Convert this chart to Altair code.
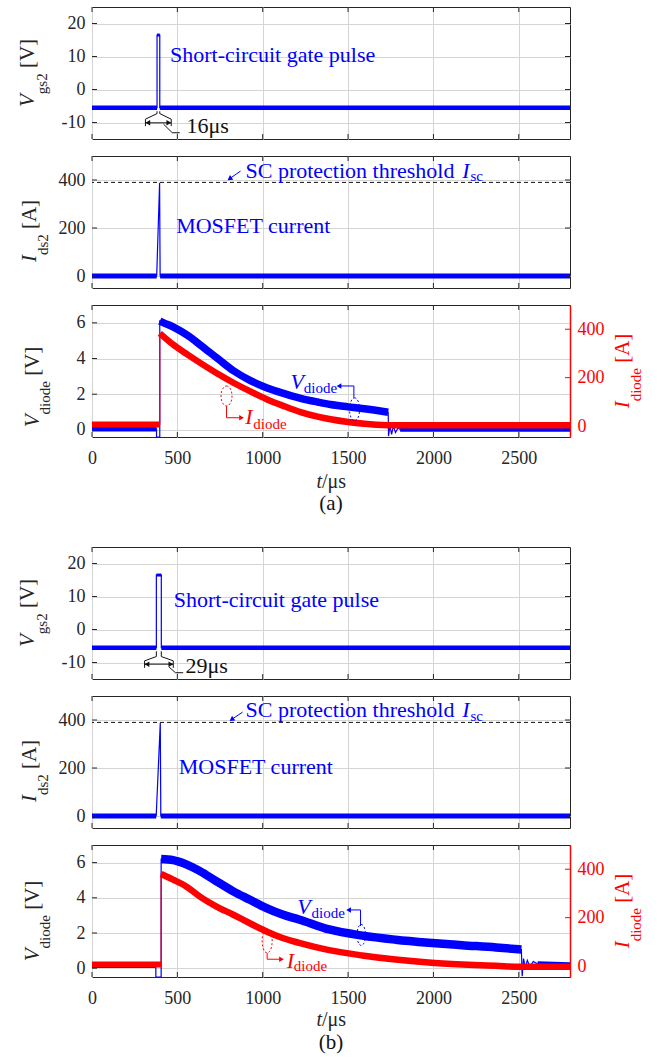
import altair as alt
import pandas as pd

# ------------------------------------------------------------------ data
T_MAX = 2800                                   # end of time axis, us
X_TICKS = [0, 500, 1000, 1500, 2000, 2500]

VGS_DOMAIN, VGS_TICKS = [-15, 25], [-10, 0, 10, 20]
IDS_DOMAIN, IDS_TICKS = [-50, 500], [0, 200, 400]
VD_DOMAIN_A, VD_DOMAIN_B, VD_TICKS = [-0.4, 7], [-0.5, 7], [0, 2, 4, 6]
ID_DOMAIN, ID_TICKS = [-45, 500], [0, 200, 400]

SC_THRESHOLD = 390  # A

# Each trace is a list of segments (kind, t [us], value).
# "base", "cap" and "band" are the noisy steady parts, "edge" the fast transitions.
vgs_a = [
    ("base", [0, 381], [-5.5, -5.5]),
    ("edge", [381, 381], [-5.5, 16.5]),
    ("cap", [381, 397], [16.5, 16.5]),
    ("edge", [397, 397], [16.5, -5.5]),
    ("base", [397, 2800], [-5.5, -5.5]),
]
vgs_b = [
    ("base", [0, 377], [-5.5, -5.5]),
    ("edge", [377, 377], [-5.5, 16.5]),
    ("cap", [377, 406], [16.5, 16.5]),
    ("edge", [406, 406], [16.5, -5.5]),
    ("base", [406, 2800], [-5.5, -5.5]),
]
ids_a = [
    ("base", [0, 379], [0, 0]),
    ("edge", [379, 396, 399], [0, 388, 0]),
    ("base", [399, 2800], [0, 0]),
]
ids_b = [
    ("base", [0, 376], [0, 0]),
    ("edge", [376, 400, 403], [0, 388, 0]),
    ("base", [403, 2800], [0, 0]),
]
vdiode_a = [
    ("base", [0, 378], [0.05, 0.05]),
    ("edge", [378, 378, 397, 397], [0.05, -0.4, -0.4, 6.1]),
    ("band", [397, 420, 480, 560, 640, 736, 831, 931, 1026, 1127, 1222, 1322, 1397, 1500, 1595, 1680, 1735],
             [6.1, 6.0, 5.75, 5.3, 4.72, 4.0, 3.3, 2.75, 2.35, 2.03, 1.77, 1.56, 1.42, 1.29, 1.18, 1.07, 0.99]),
    ("edge", [1735, 1737, 1745, 1755, 1765, 1778, 1792, 1805],
             [0.99, -0.35, 0.25, -0.25, 0.2, -0.15, 0.1, 0.03]),
    ("base", [1805, 2800], [0.03, 0.03]),
]
idiode_a = [
    ("base", [0, 397], [7, 7]),
    ("edge", [397, 397], [7, 383]),
    ("band", [397, 480, 560, 636, 736, 831, 931, 1026, 1127, 1222, 1322, 1397, 1500, 1595, 1735, 1800, 2800],
             [383, 334, 295, 260, 216, 178, 142, 110, 82, 58, 39, 28, 17, 10, 4, 3, 3]),
]
vdiode_b = [
    ("base", [0, 374], [0.15, 0.15]),
    ("edge", [374, 374, 405, 405], [0.15, -0.5, -0.5, 6.2]),
    ("band", [405, 475, 552, 630, 727, 825, 922, 1019, 1116, 1213, 1389, 1583, 1778, 1972, 2167, 2367, 2515],
             [6.2, 6.14, 5.9, 5.53, 4.95, 4.38, 3.9, 3.43, 3.05, 2.77, 2.2, 1.85, 1.62, 1.45, 1.31, 1.18, 1.06]),
    ("edge", [2515, 2520, 2528, 2538, 2550, 2565, 2585, 2610],
             [1.06, -0.45, 0.55, 0.0, 0.45, 0.1, 0.38, 0.25]),
    ("base", [2610, 2800], [0.25, 0.2]),
]
idiode_b = [
    ("base", [0, 405], [7, 7]),
    ("edge", [405, 405], [7, 380]),
    ("band", [405, 475, 552, 630, 727, 825, 922, 1019, 1116, 1213, 1389, 1583, 1778, 1972, 2167, 2367, 2507, 2800],
             [380, 357, 329, 288, 247, 213, 178, 144, 116, 96, 66, 44, 27, 15, 7, 1, -3, -3]),
]

# pulse-width marker under the gate pulse, (t, V) vertices
gate_marker_a = {
    "left": ([381, 381, 313, 313], [-6.6, -7.3, -9.0, -11.1]),
    "right": ([397, 397, 464, 464], [-6.6, -7.3, -9.0, -11.1]),
    "span": ([313, 464], [-10.1, -10.1]),
    "leader": ([419, 470, 514], [-10.5, -13.1, -13.1]),
}
gate_marker_b = {
    "left": ([377, 377, 308, 308], [-6.6, -8.2, -9.5, -11.6]),
    "right": ([406, 406, 476, 476], [-6.6, -8.2, -9.5, -11.6]),
    "span": ([308, 476], [-10.5, -10.5]),
    "leader": ([450, 489, 534], [-11.3, -13.1, -13.1]),
}

# annotation anchors (t, value) in each panel's own units
gate_notes_a = {"pulse": (457, 8.3), "width": (554, -13.2), "width_text": "16μs"}
gate_notes_b = {"pulse": (479, 6.8), "width": (548, -13.1), "width_text": "29μs"}
current_notes_a = {"mosfet": (493, 178), "sc": (899, 410), "sc_I": (2169, 410), "sc_sub": (2217, 394),
                   "arrow": ([870, 811], [437, 408]), "head": (806, 405)}
current_notes_b = {"mosfet": (508, 174), "sc": (899, 412.5), "sc_I": (2169, 412.5), "sc_sub": (2217, 396),
                   "arrow": ([882, 822], [433, 404]), "head": (818, 402)}
diode_notes_a = {
    "v_sym": (1163, 2.27), "v_sub": (1241, 2.08),
    "v_arrow": ([1534, 1534, 1455], [1.80, 2.46, 2.46]), "v_head": (1447, 2.46),
    "v_ring": (1538, 1.15, 10, 23),
    "i_ring": (788, 1.90, 11, 20),
    "i_arrow": ([788, 788, 870], [1.34, 0.68, 0.68]), "i_head": (876, 0.68),
    "i_sym": (897, 0.31), "i_sub": (945, 0.03),
}
diode_notes_b = {
    "v_sym": (1202, 3.08), "v_sub": (1286, 2.85),
    "v_arrow": ([1573, 1573, 1510], [2.40, 3.31, 3.31]), "v_head": (1503, 3.31),
    "v_ring": (1577, 1.89, 8.5, 21),
    "i_ring": (1026, 1.55, 10, 24),
    "i_arrow": ([1026, 1026, 1100], [0.86, 0.51, 0.51]), "i_head": (1110, 0.51),
    "i_sym": (1141, 0.0), "i_sub": (1182, -0.16),
}

# ------------------------------------------------------------------ style
W, H = 478, 132
TICK = 5
FONT = "Liberation Serif"
BLUE, RED, INK, GRID, BLACK = "#0000ff", "#ff0000", "#262626", "#d4d4d4", "#111111"

ROMAN = {"g": .5, "s": .389, "2": .5, "d": .5, "i": .278, "o": .5, "e": .444,
         "[": .333, "]": .333, "V": .722, "A": .722}
ITALIC = {"V": .611, "I": .333}
SHARED = "shared"   # leave the axis to whichever layer defines it
PLAIN = "'' + datum.value"   # plain numbers, no thousands separator


def xs(axis=SHARED):
    kw = {} if axis is SHARED else {"axis": axis}
    return alt.X("t:Q", scale=alt.Scale(domain=[0, T_MAX], nice=False, zero=False), **kw)


def ys(domain, axis=SHARED):
    kw = {} if axis is SHARED else {"axis": axis}
    return alt.Y("v:Q", scale=alt.Scale(domain=domain, nice=False, zero=False), **kw)


def x_axis(labels):
    return alt.Axis(values=X_TICKS, grid=True, gridColor=GRID, ticks=False, domain=False,
                    labels=labels, labelFont=FONT, labelFontSize=18, labelColor=INK,
                    labelPadding=12, labelFlush=False, title=None, labelExpr=PLAIN)


def y_axis(values, orient="left", color=INK, grid=True):
    kw = dict(values=values, orient=orient, grid=grid, ticks=False, labelFont=FONT,
              labelFontSize=18, labelColor=color, labelPadding=7, labelFlush=False,
              title=None, labelExpr=PLAIN)
    if grid:
        kw["gridColor"] = GRID
    if color == INK:
        kw["domain"] = False
    else:
        kw.update(domain=True, domainColor=color, domainWidth=1.5)
    return alt.Axis(**kw)


def trace(segments, domain, color, widths, axis_x=SHARED, axis_y=SHARED):
    rows = []
    for si, (kind, ts, vs) in enumerate(segments):
        for t, v in zip(ts, vs):
            rows.append({"t": t, "v": v, "seg": si, "kind": kind, "k": len(rows)})
    base = alt.Chart(pd.DataFrame(rows))
    out = [base.mark_line(color=color, strokeWidth=1.2).encode(
        x=xs(axis_x), y=ys(domain, axis_y), order="k:Q")]
    for kind, w in widths.items():
        out.append(base.transform_filter(alt.datum.kind == kind)
                   .mark_line(color=color, strokeWidth=w, strokeJoin="round", interpolate="monotone")
                   .encode(x=xs(), y=ys(domain), detail="seg:N", order="k:Q"))
    return out


def x_tick_rules():
    xt = alt.Chart(pd.DataFrame({"t": X_TICKS}))
    return [xt.mark_rule(color=INK, strokeWidth=1).encode(x=xs(), y=alt.value(y0), y2=alt.value(y1))
            for y0, y1 in ((0, TICK), (H - TICK, H))]


def y_tick_rules(domain, values, sides, color=INK):
    yt = alt.Chart(pd.DataFrame({"v": values}))
    out = []
    for side in sides:
        x0, x1 = (0, TICK) if side == "left" else (W - TICK, W)
        out.append(yt.mark_rule(color=color, strokeWidth=1).encode(
            y=ys(domain), x=alt.value(x0), x2=alt.value(x1)))
    return out


def text_at(s, t, v, domain, size=22, color=BLUE, italic=False, yaxis=SHARED):
    df = pd.DataFrame({"t": [t], "v": [v], "s": [s]})
    return alt.Chart(df).mark_text(
        font=FONT, fontSize=size, fontStyle="italic" if italic else "normal", color=color,
        align="left", baseline="alphabetic").encode(x=xs(), y=ys(domain, yaxis), text="s:N")


def polyline(ts, vs, domain, color, width=1.0, yaxis=SHARED):
    df = pd.DataFrame({"t": ts, "v": vs, "k": list(range(len(ts)))})
    return alt.Chart(df).mark_line(color=color, strokeWidth=width).encode(
        x=xs(), y=ys(domain, yaxis), order="k:Q")


def head(t, v, domain, color, shape, angle=None, size=30, yaxis=SHARED):
    kw = {} if angle is None else {"angle": angle}
    return alt.Chart(pd.DataFrame({"t": [t], "v": [v]})).mark_point(
        shape=shape, filled=True, size=size, color=color, opacity=1, **kw
    ).encode(x=xs(), y=ys(domain, yaxis))


def ring(t, v, w, h, domain, color, yaxis=SHARED):
    rx = w / h
    path = f"M0,-1A{rx:.3f},1,0,1,1,0,1A{rx:.3f},1,0,1,1,0,-1Z"
    return alt.Chart(pd.DataFrame({"t": [t], "v": [v]})).mark_point(
        shape=path, size=h * h, filled=False, color=color, strokeWidth=1,
        strokeDash=[2, 2], opacity=1).encode(x=xs(), y=ys(domain, yaxis))


def label_px(s, x, y, size, color=INK, italic=False, align="left", angle=None):
    kw = {} if angle is None else {"angle": angle}
    return alt.Chart(pd.DataFrame({"s": [s]})).mark_text(
        font=FONT, fontSize=size, fontStyle="italic" if italic else "normal", color=color,
        align=align, baseline="alphabetic", **kw).encode(
        x=alt.value(x), y=alt.value(y), text="s:N")


def y_title(sym, sub, unit, x_base, x_sub, center, color=INK):
    big, small = 21, 15
    w_sym = ITALIC[sym] * big
    w_sub = sum(ROMAN[c] for c in sub) * small
    w_unit = sum(ROMAN[c] for c in unit) * big
    gap = 0.25 * big
    y0 = center + (w_sym + w_sub + gap + w_unit) / 2
    return [label_px(sym, x_base, y0, big, color, italic=True, angle=270),
            label_px(sub, x_sub, y0 - w_sym, small, color, angle=270),
            label_px(unit, x_base, y0 - w_sym - w_sub - gap, big, color, angle=270)]


# ------------------------------------------------------------------ panels
def gate_panel(segs, marker, notes, title_center):
    d = VGS_DOMAIN
    layers = trace(segs, d, BLUE, {"base": 4.5, "cap": 3.0}, x_axis(False), y_axis(VGS_TICKS))
    layers += x_tick_rules() + y_tick_rules(d, VGS_TICKS, ("left", "right"))
    for key in ("left", "right", "span", "leader"):
        ts, vs = marker[key]
        layers.append(polyline(ts, vs, d, BLACK))
    st, sv = marker["span"]
    layers.append(head(st[0] + 14, sv[0], d, BLACK, "triangle-left"))
    layers.append(head(st[1] - 14, sv[1], d, BLACK, "triangle-right"))
    layers.append(text_at(notes["width_text"], *notes["width"], d, color=BLACK))
    layers.append(text_at("Short-circuit gate pulse", *notes["pulse"], d))
    layers += y_title("V", "gs2", "[V]", -58, -45, title_center)
    return alt.layer(*layers).properties(width=W, height=H)


def current_panel(segs, notes, title_center):
    d = IDS_DOMAIN
    layers = trace(segs, d, BLUE, {"base": 5.0}, x_axis(False), y_axis(IDS_TICKS))
    layers += x_tick_rules() + y_tick_rules(d, IDS_TICKS, ("left", "right"))
    layers.append(alt.Chart(pd.DataFrame({"v": [SC_THRESHOLD]})).mark_rule(
        color=BLACK, strokeWidth=1, strokeDash=[4, 3]).encode(y=ys(d)))
    layers.append(polyline(*notes["arrow"], d, BLUE))
    layers.append(head(*notes["head"], d, BLUE, "triangle-up", angle=235, size=32))
    layers.append(text_at("SC protection threshold", *notes["sc"], d))
    layers.append(text_at("I", *notes["sc_I"], d, italic=True))
    layers.append(text_at("sc", *notes["sc_sub"], d, size=15))
    layers.append(text_at("MOSFET current", *notes["mosfet"], d))
    layers += y_title("I", "ds2", "[A]", -56, -44, title_center)
    return alt.layer(*layers).properties(width=W, height=H)


def diode_panel(v_segs, i_segs, vd, notes, title_center, blue_w):
    left = trace(v_segs, vd, BLUE, {"base": 5.0, "band": blue_w}, x_axis(True), y_axis(VD_TICKS))
    left += x_tick_rules() + y_tick_rules(vd, VD_TICKS, ("left",))
    right = trace(i_segs, ID_DOMAIN, RED, {"base": 6.0, "band": 6.5}, SHARED,
                  y_axis(ID_TICKS, orient="right", color=RED, grid=False))
    right += y_tick_rules(ID_DOMAIN, ID_TICKS, ("right",), RED)
    na = None  # the annotation layer keeps its own, hidden y scale
    n = [
        text_at("V", *notes["v_sym"], vd, italic=True, yaxis=na),
        text_at("diode", *notes["v_sub"], vd, size=15, yaxis=na),
        polyline(*notes["v_arrow"], vd, BLUE, yaxis=na),
        head(*notes["v_head"], vd, BLUE, "triangle-left", yaxis=na),
        ring(*notes["v_ring"], vd, BLUE, yaxis=na),
        ring(*notes["i_ring"], vd, RED, yaxis=na),
        polyline(*notes["i_arrow"], vd, RED, yaxis=na),
        head(*notes["i_head"], vd, RED, "triangle-right", yaxis=na),
        text_at("I", *notes["i_sym"], vd, color=RED, italic=True, yaxis=na),
        text_at("diode", *notes["i_sub"], vd, size=15, color=RED, yaxis=na),
    ]
    n += y_title("V", "diode", "[V]", -53, -42, title_center)
    n += y_title("I", "diode", "[A]", W + 59, W + 71, 66, RED)
    return (alt.layer(alt.layer(*left), alt.layer(*right), alt.layer(*n))
            .resolve_scale(y="independent")
            .properties(width=W, height=H))


def caption(tag, y_axis_title, y_tag, height):
    return alt.layer(
        label_px("t", W / 2 - 9, y_axis_title, 20, INK, italic=True, align="right"),
        label_px("/μs", W / 2 - 9, y_axis_title, 20, INK),
        label_px(tag, W / 2, y_tag, 21, BLACK, align="center"),
    ).properties(width=W, height=height, view=alt.ViewBackground(stroke="transparent"))


chart = alt.vconcat(
    gate_panel(vgs_a, gate_marker_a, gate_notes_a, 66),
    current_panel(ids_a, current_notes_a, 75),
    diode_panel(vdiode_a, idiode_a, VD_DOMAIN_A, diode_notes_a, 82, 7.5),
    caption("(a)", 34, 56, 76),
    gate_panel(vgs_b, gate_marker_b, gate_notes_b, 66),
    current_panel(ids_b, current_notes_b, 75),
    diode_panel(vdiode_b, idiode_b, VD_DOMAIN_B, diode_notes_b, 76, 8.5),
    caption("(b)", 32, 55, 60),
    spacing=17, bounds="flush",
).configure_view(stroke=INK, strokeWidth=1).properties(
    padding={"left": 16, "top": 6, "right": 4, "bottom": 4}, background="white")

chart.save("out.html", embed_options={"renderer": "svg", "actions": False})
